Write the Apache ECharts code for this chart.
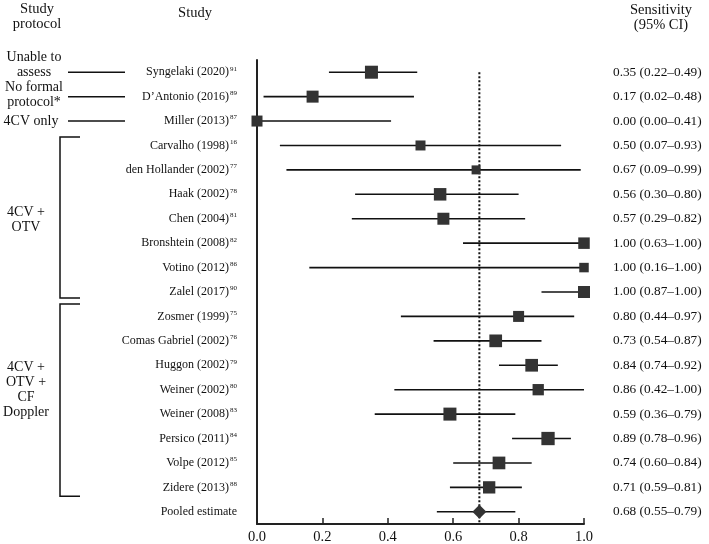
<!DOCTYPE html>
<html><head><meta charset="utf-8">
<script src="https://cdn.jsdelivr.net/npm/echarts@6/dist/echarts.min.js"></script>
<style>html,body{margin:0;padding:0;background:#fff}#c{width:709px;height:544px}</style>
</head><body><div id="c"></div>
<script>
// ---- data ----
const studies = ['Syngelaki (2020)','D\u2019Antonio (2016)','Miller (2013)','Carvalho (1998)','den Hollander (2002)','Haak (2002)','Chen (2004)','Bronshtein (2008)','Votino (2012)','Zalel (2017)','Zosmer (1999)','Comas Gabriel (2002)','Huggon (2002)','Weiner (2002)','Weiner (2008)','Persico (2011)','Volpe (2012)','Zidere (2013)','Pooled estimate'];
const refs = ['91','89','87','16','77','78','81','82','86','90','75','76','79','80','83','84','85','88',''];
const sens  = [0.35,0.17,0.00,0.50,0.67,0.56,0.57,1.00,1.00,1.00,0.80,0.73,0.84,0.86,0.59,0.89,0.74,0.71,0.68];
const lower = [0.22,0.02,0.00,0.07,0.09,0.30,0.29,0.63,0.16,0.87,0.44,0.54,0.74,0.42,0.36,0.78,0.60,0.59,0.55];
const upper = [0.49,0.48,0.41,0.93,0.99,0.80,0.82,1.00,1.00,1.00,0.97,0.87,0.92,1.00,0.79,0.96,0.84,0.81,0.79];
const pooledIndex = 18;
const xTicks = [0.0,0.2,0.4,0.6,0.8,1.0];
// marker sizes (study weights, px)
const markerSize = [13,12,11,10,9,12.5,12,11.5,9.5,12,11,12.7,12.7,11.3,13,13.3,12.7,12.3];
const groups = [
  {label:['Unable to','assess'], from:0, to:0},
  {label:['No formal','protocol*'], from:1, to:1},
  {label:['4CV only'], from:2, to:2},
  {label:['4CV +','OTV'], from:3, to:9},
  {label:['4CV +','OTV +','CF','Doppler'], from:10, to:17}
];

const fmt = v => v.toFixed(2);
const ciText = sens.map((s,i)=> fmt(s)+' ('+fmt(lower[i])+'\u2013'+fmt(upper[i])+')');
const FONT = '"Liberation Serif", "DejaVu Serif", serif';
const INK = '#111';

const chart = echarts.init(document.getElementById('c'), null, {renderer:'canvas'});
const cats = studies.map((s,i)=>String(i));

const squareData = [];
for (let i=0;i<studies.length;i++) if (i!==pooledIndex) squareData.push([sens[i], i]);
const ciData = studies.map((s,i)=>[lower[i], upper[i], i]);

chart.setOption({
  animation:false,
  backgroundColor:'#fff',
  grid:{left:257, right:125, top:60, bottom:20, outerBoundsMode:'none'},
  xAxis:{
    type:'value', min:0, max:1, interval:0.2,
    axisLine:{show:true, lineStyle:{color:'#222', width:2}},
    axisTick:{show:true, inside:true, length:6, lineStyle:{color:'#222', width:1.5}},
    axisLabel:{margin:6, fontFamily:FONT, fontSize:14.5, color:INK, formatter:v=>v.toFixed(1)},
    splitLine:{show:false}
  },
  yAxis:[{
    type:'category', data:cats, inverse:true, boundaryGap:true,
    axisLine:{show:true, lineStyle:{color:'#222', width:2}},
    axisTick:{show:false},
    axisLabel:{margin:20, fontFamily:FONT, fontSize:12, color:INK, align:'right',
      formatter:(v,idx)=> refs[idx] ? '{n|'+studies[idx]+'}{s|'+refs[idx]+'}' : '{n|'+studies[idx]+'}',
      rich:{n:{fontFamily:FONT, fontSize:12, color:INK, lineHeight:14},
            s:{fontFamily:FONT, fontSize:7, color:INK, verticalAlign:'top', lineHeight:14, padding:[0,0,0,1]}}
    },
    splitLine:{show:false}
  },{
    type:'category', data:ciText, inverse:true, boundaryGap:true, position:'right',
    axisLine:{show:false}, axisTick:{show:false},
    axisLabel:{margin:29, align:'left', fontFamily:FONT, fontSize:13.3, color:INK},
    splitLine:{show:false}
  }],
  series:[
    {
      type:'custom', name:'pooledLine', z:1, silent:true,
      data:[[sens[pooledIndex], 0]],
      renderItem:(params, api)=>{
        const p = api.coord([api.value(0), api.value(1)]);
        const cs = params.coordSys;
        return {type:'line', shape:{x1:p[0], y1:p[1], x2:p[0], y2:cs.y+cs.height},
          style:{stroke:'#111', lineWidth:2, lineDash:[2,2]}};
      }
    },
    {
      type:'custom', name:'CI', z:2, silent:true,
      data:ciData,
      renderItem:(params, api)=>{
        const a = api.coord([api.value(0), api.value(2)]);
        const b = api.coord([api.value(1), api.value(2)]);
        return {type:'line', shape:{x1:a[0], y1:a[1], x2:b[0], y2:b[1]},
          style:{stroke:'#111', lineWidth:1.6}};
      }
    },
    {
      type:'scatter', name:'Sensitivity', z:3, symbol:'rect',
      symbolSize:(val, p)=> markerSize[p.dataIndex],
      itemStyle:{color:'#333', opacity:1},
      data:squareData
    },
    {
      type:'scatter', name:'Pooled', z:3, symbol:'diamond', symbolSize:[14,14],
      itemStyle:{color:'#333', opacity:1},
      data:[[sens[pooledIndex], pooledIndex]]
    }
  ]
});

// annotations placed from the axis scale
const yOf = i => chart.convertToPixel({gridIndex:0}, [0, i])[1];
const g = [];
const txt = (s, x, y, size, align) => ({type:'text', x:x, y:y,
  style:{text:s, fontFamily:FONT, fontSize:size||14, fill:INK, align:align||'center', verticalAlign:'middle'}});
// headers
g.push(txt('Study', 37, 9, 14.5));
g.push(txt('protocol', 37, 24, 14.5));
g.push(txt('Study', 195, 13, 14.5));
g.push(txt('Sensitivity', 661, 10, 14.5));
g.push(txt('(95% CI)', 661, 25, 14.5));
groups.forEach((gr, k)=>{
  if (gr.from === gr.to) {
    const y = yOf(gr.from);
    g.push({type:'line', shape:{x1:68, y1:y, x2:125, y2:y}, style:{stroke:'#111', lineWidth:1.5}});
    const n = gr.label.length;
    const base = k===1 ? y+6 : y; // last line of text
    gr.label.forEach((s,j)=> g.push(txt(s, k===2?31:34, base - (n-1-j)*15, 14)));
  } else {
    const yt = yOf(gr.from) - (k===3 ? 8.5 : 12.5);
    const yb = yOf(gr.to) + (k===3 ? 6 : 9);
    g.push({type:'polyline', shape:{points:[[80,yt],[60,yt],[60,yb],[80,yb]]}, style:{stroke:'#111', lineWidth:1.5, fill:null}});
    const n = gr.label.length;
    const mid = (yt+yb)/2 + (k===4 ? -10 : 2);
    gr.label.forEach((s,j)=> g.push(txt(s, 26, mid + (j-(n-1)/2)*15, 14)));
  }
});
chart.setOption({graphic:{elements:g}});
</script>
</body></html>
